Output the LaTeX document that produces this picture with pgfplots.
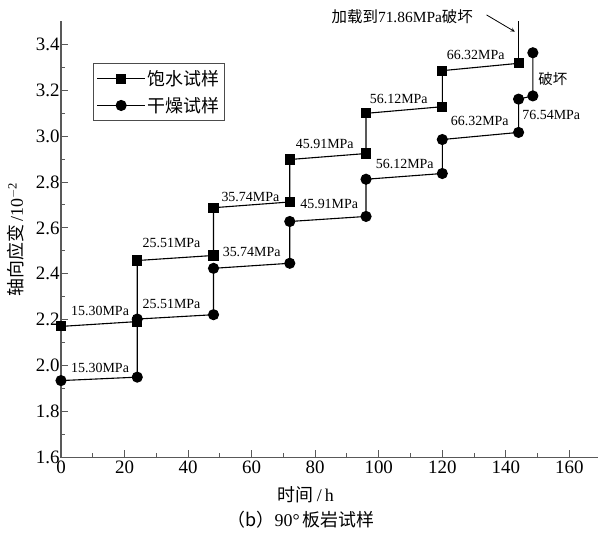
\documentclass[border=0pt]{standalone}
\usepackage{fontspec}
\setmainfont{Liberation Serif}
\newfontfamily\cjk{Noto Sans CJK SC}
\usepackage{pgfplots}
\pgfplotsset{compat=1.18}
\begin{document}
\begin{tikzpicture}
\useasboundingbox (0,0) rectangle (598bp,535bp);
\begin{axis}[
  at={(61bp,77.5bp)}, anchor=south west,
  scale only axis, width=537bp, height=436.2bp,
  xmin=0, xmax=169, ymin=1.6, ymax=3.5,
  axis x line*=bottom, axis y line*=left,
  axis line style={line width=1.3bp, draw=black!65, -},
  xtick={0,20,40,60,80,100,120,140,160},
  ytick={1.6,1.8,2.0,2.2,2.4,2.6,2.8,3.0,3.2,3.4},
  minor x tick num=1, minor y tick num=1,
  tick align=inside,
  major tick length=7bp, minor tick length=4bp,
  tick style={line width=1bp, draw=black!65},
  ticklabel style={font=\rmfamily\fontsize{19}{19}\selectfont},
  /pgf/number format/assume math mode=true,
  xticklabel={\rmfamily\pgfmathprintnumber{\tick}},
  yticklabel={\rmfamily\pgfmathprintnumber[fixed,fixed zerofill,precision=1]{\tick}},
  yticklabel style={xshift=2bp},
  xticklabel style={yshift=0bp},
  clip=false,
  xlabel={{\cjk 时间}\,/\,h},
  xlabel style={at={(axis description cs:0.456,-0.086)}, anchor=center, font=\rmfamily\fontsize{18}{18}\selectfont},
  ylabel={{\cjk 轴向应变}\,/10\textsuperscript{$-$2}},
  ylabel style={at={(axis description cs:-0.0838,0.5)}, anchor=center, font=\rmfamily\fontsize{18}{18}\selectfont},
  legend style={at={(0.06,0.904)}, anchor=north west, draw=black!70, line width=0.8bp,
    font=\cjk\fontsize{18}{18}\selectfont, inner xsep=3bp, inner ysep=5bp, row sep=6bp},
  legend cell align=left,
  legend image code/.code={\draw[mark repeat=2,mark phase=2,#1] plot coordinates {(0bp,0bp) (24bp,0bp) (48bp,0bp)};},
]
\addplot[black, line width=1.1bp, mark=square*, mark size=4.5bp, mark options={solid}] coordinates {
(0,2.171)(24,2.192)(24,2.458)(48,2.480)(48,2.688)(72,2.713)(72,2.898)(96,2.924)(96,3.099)(120,3.128)(120,3.285)(144,3.317)};
\addlegendentry{饱水试样}
\addplot[black, line width=1.1bp, mark=*, mark size=5bp] coordinates {
(0,1.935)(24,1.950)(24,2.203)(48,2.222)(48,2.424)(72,2.446)(72,2.628)(96,2.650)(96,2.812)(120,2.837)(120,2.985)(144,3.016)(144,3.161)(148.5,3.175)(148.5,3.363)};
\addlegendentry{干燥试样}
\addplot[black, line width=1.1bp, forget plot] coordinates {(144,3.317)(144,3.50)};

\begin{scope}[every node/.style={font=\rmfamily\fontsize{14}{14}\selectfont, inner sep=0pt}]
\node at (axis cs:12.3,2.237) {15.30MPa};
\node at (axis cs:34.8,2.534) {25.51MPa};
\node at (axis cs:59.6,2.735) {35.74MPa};
\node at (axis cs:83.0,2.964) {45.91MPa};
\node at (axis cs:106.3,3.160) {56.12MPa};
\node at (axis cs:130.5,3.352) {66.32MPa};
\node at (axis cs:12.3,1.988) {15.30MPa};
\node at (axis cs:34.8,2.269) {25.51MPa};
\node at (axis cs:60.0,2.494) {35.74MPa};
\node at (axis cs:84.4,2.703) {45.91MPa};
\node at (axis cs:108.2,2.880) {56.12MPa};
\node at (axis cs:131.8,3.066) {66.32MPa};
\node at (axis cs:154.3,3.094) {76.54MPa};
\node[font=\cjk\fontsize{14.5}{14.5}\selectfont] at (axis cs:154.8,3.247) {破坏};
\node[font=\rmfamily\fontsize{15.5}{15.5}\selectfont] at (axis cs:107.4,3.520) {{\cjk 加载到}71.86MPa{\cjk 破坏}};
\end{scope}
\draw[-stealth, line width=0.8bp] (axis cs:133.9,3.528) -- (axis cs:142.8,3.455);
\node[font=\rmfamily\fontsize{18}{18}\selectfont] at (axis description cs:0.447,-0.143) {{\cjk （b）}90°\,{\cjk 板岩试样}};
\end{axis}
\end{tikzpicture}
\end{document}
